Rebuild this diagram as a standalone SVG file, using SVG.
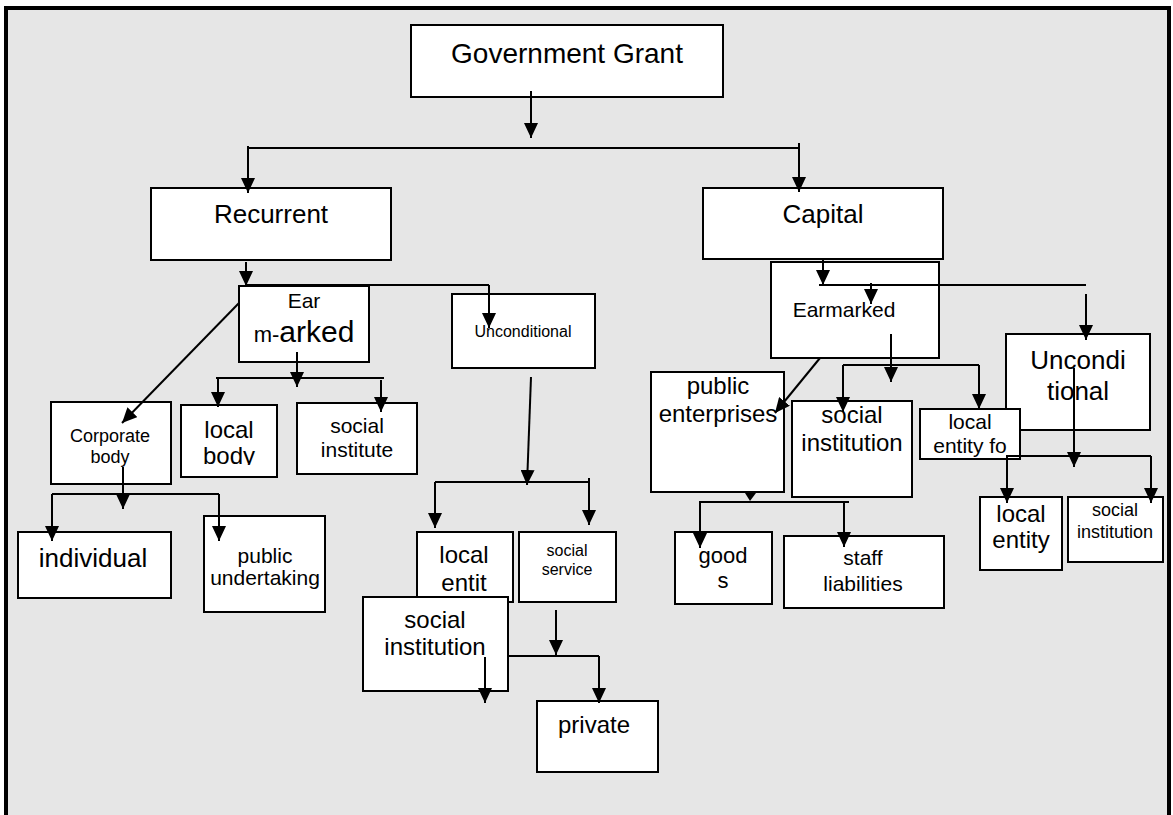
<svg xmlns="http://www.w3.org/2000/svg" width="1173" height="815" viewBox="0 0 1173 815">
  <style>
    .box { fill: #ffffff; stroke: #000000; stroke-width: 2; }
    .lbl { font-family: "Liberation Sans", Arial, sans-serif; fill: #000000; text-anchor: middle; }
    .wire { fill: none; stroke: #000000; stroke-width: 2; }
    .arr { marker-end: url(#ah); }
    .head { fill: #000000; }
  </style>
  <defs>
    <marker id="ah" viewBox="0 0 15 14" refX="15" refY="7" markerWidth="15" markerHeight="14" markerUnits="userSpaceOnUse" orient="auto">
      <path d="M0,0 L15,7 L0,14 z" fill="#000000"/>
    </marker>
    <clipPath id="clipLocalBody">
      <rect x="181" y="405" width="96" height="60"/>
    </clipPath>
  </defs>

  <!-- outer frame -->
  <rect x="6" y="8" width="1163" height="900" fill="#e6e6e6" stroke="#000000" stroke-width="4"/>

  <!-- nodes -->
  <g id="government-grant">
    <rect class="box" x="411" y="25" width="312" height="72"/>
    <text class="lbl" x="567" y="63" font-size="28">Government Grant</text>
  </g>
  <g id="recurrent">
    <rect class="box" x="151" y="188" width="240" height="72"/>
    <text class="lbl" x="271" y="223" font-size="26">Recurrent</text>
  </g>
  <g id="capital">
    <rect class="box" x="703" y="188" width="240" height="71"/>
    <text class="lbl" x="823" y="223" font-size="26">Capital</text>
  </g>
  <g id="earmarked-recurrent">
    <rect class="box" x="239" y="286" width="130" height="76"/>
    <text class="lbl" x="304" y="308" font-size="21">Ear</text>
    <text class="lbl" x="304" y="342"><tspan font-size="22">m-</tspan><tspan font-size="30">arked</tspan></text>
  </g>
  <g id="unconditional-recurrent">
    <rect class="box" x="452" y="294" width="143" height="74"/>
    <text class="lbl" x="523" y="337" font-size="16">Unconditional</text>
  </g>
  <g id="corporate-body">
    <rect class="box" x="51" y="402" width="120" height="82"/>
    <text class="lbl" x="110" y="442" font-size="18">Corporate</text>
    <text class="lbl" x="110" y="463" font-size="18">body</text>
  </g>
  <g id="local-body">
    <rect class="box" x="181" y="405" width="96" height="72"/>
    <text class="lbl" x="229" y="438" font-size="24">local</text>
    <text class="lbl" x="229" y="464" font-size="24" clip-path="url(#clipLocalBody)">body</text>
  </g>
  <g id="social-institute">
    <rect class="box" x="297" y="403" width="120" height="71"/>
    <text class="lbl" x="357" y="433" font-size="21">social</text>
    <text class="lbl" x="357" y="457" font-size="21">institute</text>
  </g>
  <g id="individual">
    <rect class="box" x="18" y="532" width="153" height="66"/>
    <text class="lbl" x="93" y="567" font-size="26">individual</text>
  </g>
  <g id="public-undertaking">
    <rect class="box" x="204" y="516" width="121" height="96"/>
    <text class="lbl" x="265" y="563" font-size="21">public</text>
    <text class="lbl" x="265" y="585" font-size="21">undertaking</text>
  </g>
  <g id="local-entit">
    <rect class="box" x="417" y="532" width="96" height="70"/>
    <text class="lbl" x="464" y="563" font-size="24">local</text>
    <text class="lbl" x="464" y="591" font-size="24">entit</text>
  </g>
  <g id="social-service">
    <rect class="box" x="519" y="532" width="97" height="70"/>
    <text class="lbl" x="567" y="556" font-size="16">social</text>
    <text class="lbl" x="567" y="575" font-size="16">service</text>
  </g>
  <g id="social-institution-left">
    <rect class="box" x="363" y="597" width="145" height="94"/>
    <text class="lbl" x="435" y="628" font-size="24">social</text>
    <text class="lbl" x="435" y="655" font-size="24">institution</text>
  </g>
  <g id="private">
    <rect class="box" x="537" y="701" width="121" height="71"/>
    <text class="lbl" x="594" y="733" font-size="24">private</text>
  </g>
  <g id="earmarked-capital">
    <rect class="box" x="771" y="262" width="168" height="96"/>
    <text class="lbl" x="844" y="317" font-size="21">Earmarked</text>
  </g>
  <g id="unconditional-capital">
    <rect class="box" x="1006" y="334" width="144" height="96"/>
    <text class="lbl" x="1078" y="369" font-size="26">Uncondi</text>
    <text class="lbl" x="1078" y="400" font-size="26">tional</text>
  </g>
  <g id="public-enterprises">
    <rect class="box" x="651" y="372" width="133" height="120"/>
    <text class="lbl" x="718" y="394" font-size="24">public</text>
    <text class="lbl" x="718" y="422" font-size="24">enterprises</text>
  </g>
  <g id="social-institution-mid">
    <rect class="box" x="792" y="401" width="120" height="96"/>
    <text class="lbl" x="852" y="423" font-size="24">social</text>
    <text class="lbl" x="852" y="451" font-size="24">institution</text>
  </g>
  <g id="local-entity-fo">
    <rect class="box" x="920" y="409" width="100" height="50"/>
    <text class="lbl" x="970" y="429" font-size="21">local</text>
    <text class="lbl" x="970" y="453" font-size="21">entity fo</text>
  </g>
  <g id="goods">
    <rect class="box" x="675" y="532" width="97" height="72"/>
    <text class="lbl" x="723" y="563" font-size="22">good</text>
    <text class="lbl" x="723" y="588" font-size="22">s</text>
  </g>
  <g id="staff-liabilities">
    <rect class="box" x="784" y="536" width="160" height="72"/>
    <text class="lbl" x="863" y="565" font-size="21">staff</text>
    <text class="lbl" x="863" y="591" font-size="21">liabilities</text>
  </g>
  <g id="local-entity">
    <rect class="box" x="980" y="497" width="82" height="73"/>
    <text class="lbl" x="1021" y="522" font-size="24">local</text>
    <text class="lbl" x="1021" y="548" font-size="24">entity</text>
  </g>
  <g id="social-institution-right">
    <rect class="box" x="1068" y="497" width="95" height="65"/>
    <text class="lbl" x="1115" y="516" font-size="18">social</text>
    <text class="lbl" x="1115" y="538" font-size="18">institution</text>
  </g>

  <!-- connectors -->
  <g id="connectors">
    <!-- grant split -->
    <line class="wire arr" x1="531" y1="91" x2="531" y2="138"/>
    <line class="wire" x1="248" y1="148" x2="800" y2="148"/>
    <line class="wire arr" x1="248" y1="146" x2="248" y2="193"/>
    <line class="wire arr" x1="799" y1="143" x2="799" y2="192"/>

    <!-- recurrent split -->
    <line class="wire arr" x1="246" y1="262" x2="246" y2="286"/>
    <line class="wire" x1="246" y1="285" x2="489" y2="285"/>
    <line class="wire arr" x1="489" y1="285" x2="489" y2="328"/>

    <!-- earmarked (recurrent) children -->
    <line class="wire arr" x1="239" y1="303" x2="122" y2="423"/>
    <line class="wire arr" x1="297" y1="352" x2="297" y2="387"/>
    <line class="wire" x1="216" y1="378" x2="384" y2="378"/>
    <line class="wire arr" x1="218" y1="378" x2="218" y2="407"/>
    <line class="wire arr" x1="381" y1="380" x2="381" y2="412"/>

    <!-- corporate body children -->
    <line class="wire arr" x1="123" y1="467" x2="123" y2="509"/>
    <line class="wire" x1="52" y1="494" x2="219" y2="494"/>
    <line class="wire arr" x1="52" y1="494" x2="52" y2="541"/>
    <line class="wire arr" x1="219" y1="494" x2="219" y2="541"/>

    <!-- unconditional (recurrent) children -->
    <line class="wire arr" x1="531" y1="377" x2="527" y2="485"/>
    <line class="wire" x1="435" y1="482" x2="589" y2="482"/>
    <line class="wire arr" x1="435" y1="482" x2="435" y2="528"/>
    <line class="wire arr" x1="589" y1="478" x2="589" y2="525"/>

    <!-- social service children -->
    <line class="wire arr" x1="556" y1="610" x2="556" y2="655"/>
    <line class="wire" x1="508" y1="656" x2="599" y2="656"/>
    <line class="wire arr" x1="599" y1="656" x2="599" y2="703"/>
    <line class="wire arr" x1="485" y1="657" x2="485" y2="703"/>

    <!-- capital split -->
    <line class="wire arr" x1="823" y1="259" x2="823" y2="285"/>
    <line class="wire" x1="819" y1="285" x2="1086" y2="285"/>
    <line class="wire arr" x1="871" y1="283" x2="871" y2="304"/>
    <line class="wire arr" x1="1086" y1="294" x2="1086" y2="340"/>

    <!-- earmarked (capital) children -->
    <line class="wire arr" x1="891" y1="334" x2="891" y2="382"/>
    <line class="wire" x1="843" y1="365" x2="979" y2="365"/>
    <line class="wire arr" x1="843" y1="365" x2="843" y2="412"/>
    <line class="wire arr" x1="979" y1="365" x2="979" y2="409"/>
    <line class="wire arr" x1="820" y1="358" x2="775" y2="413"/>

    <!-- public enterprises children -->
    <polygon class="head" points="745,493 756,493 750,501"/>
    <line class="wire" x1="699" y1="502" x2="849" y2="502"/>
    <line class="wire arr" x1="700" y1="502" x2="700" y2="548"/>
    <line class="wire arr" x1="844" y1="501" x2="844" y2="547"/>

    <!-- unconditional (capital) children -->
    <line class="wire arr" x1="1074" y1="368" x2="1074" y2="467"/>
    <line class="wire" x1="1006" y1="456" x2="1151" y2="456"/>
    <line class="wire arr" x1="1007" y1="456" x2="1007" y2="503"/>
    <line class="wire arr" x1="1151" y1="456" x2="1151" y2="503"/>
  </g>
</svg>
